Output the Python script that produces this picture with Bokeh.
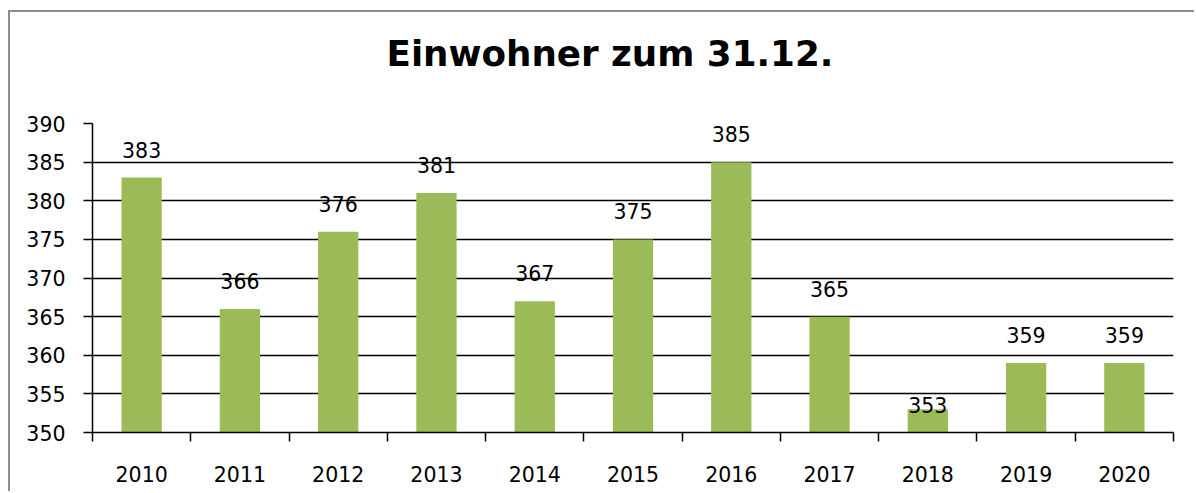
from bokeh.plotting import figure
from bokeh.models import FixedTicker, Title, ColumnDataSource, Range1d
from bokeh.core.properties import value
from bokeh.embed import file_html
from bokeh.resources import INLINE

years = [2010, 2011, 2012, 2013, 2014, 2015, 2016, 2017, 2018, 2019, 2020]
year_labels = ["2010", "2011", "2012", "2013", "2014", "2015", "2016", "2017", "2018", "2019", "2020"]
residents = [383, 366, 376, 381, 367, 375, 385, 365, 353, 359, 359]
y_ticks = [350, 355, 360, 365, 370, 375, 380, 385, 390]
title_text = "Einwohner zum 31.12."

FONT = "DejaVu Sans"
label_offsets = [-28 if v != 353 else -4 for v in residents]

src = ColumnDataSource(dict(x=years, top=residents,
                            txt=[str(v) for v in residents],
                            dy=label_offsets))

p = figure(width=1186, height=481, output_backend="svg", toolbar_location=None,
           x_range=Range1d(years[0] - 0.5, years[-1] + 0.5),
           y_range=Range1d(y_ticks[0], y_ticks[-1]),
           min_border_left=82, min_border_right=23, min_border_top=111, min_border_bottom=61)
p.styles = {"border-left": "2px solid #8c8c8c", "border-top": "2px solid #8c8c8c",
            "margin-top": "10px", "margin-left": "8px"}
p.outline_line_color = None
p.background_fill_color = "white"
p.border_fill_color = "white"

spacer = Title(text=" ", text_font_size="1px", standoff=47)
p.add_layout(spacer, "above")
t = Title(text=title_text, align="left", offset=294, text_font=FONT, text_font_size="35.7px",
          text_font_style="bold", text_color="black", standoff=0)
p.add_layout(t, "above")

p.vbar(x="x", top="top", bottom=y_ticks[0], width=0.41, source=src,
       fill_color="#9BBB59", line_color=None)
p.text(x="x", y="top", text="txt", y_offset="dy", source=src,
       text_align="center", text_baseline="middle",
       text_font=value(FONT), text_font_size="20.5px", text_color="black")

# axes
p.xaxis.ticker = FixedTicker(ticks=years, minor_ticks=[y - 0.5 for y in years] + [years[-1] + 0.5])
p.xaxis.major_label_overrides = {y: l for y, l in zip(years, year_labels)}
p.xaxis.major_tick_out = 0
p.xaxis.major_tick_in = 0
p.xaxis.minor_tick_out = 9
p.xaxis.minor_tick_in = 0
p.xaxis.minor_tick_line_color = "black"
p.xaxis.minor_tick_line_width = 1.5
p.xaxis.axis_line_color = "black"
p.xaxis.axis_line_width = 1.5
p.xaxis.major_label_standoff = 24
p.xaxis.major_label_text_font = FONT
p.xaxis.major_label_text_font_size = "20.5px"
p.xaxis.major_label_text_color = "black"

p.yaxis.ticker = FixedTicker(ticks=y_ticks, minor_ticks=[])
p.yaxis.major_tick_out = 9
p.yaxis.major_tick_in = 0
p.yaxis.major_tick_line_color = "black"
p.yaxis.major_tick_line_width = 1.5
p.yaxis.axis_line_color = "black"
p.yaxis.axis_line_width = 1.5
p.yaxis.major_label_standoff = 18
p.yaxis.major_label_text_font = FONT
p.yaxis.major_label_text_font_size = "20.5px"
p.yaxis.major_label_text_color = "black"

p.xgrid.grid_line_color = None
p.ygrid.grid_line_color = "black"
p.ygrid.grid_line_width = 1.5

open("out.html", "w").write(file_html(p, INLINE))
